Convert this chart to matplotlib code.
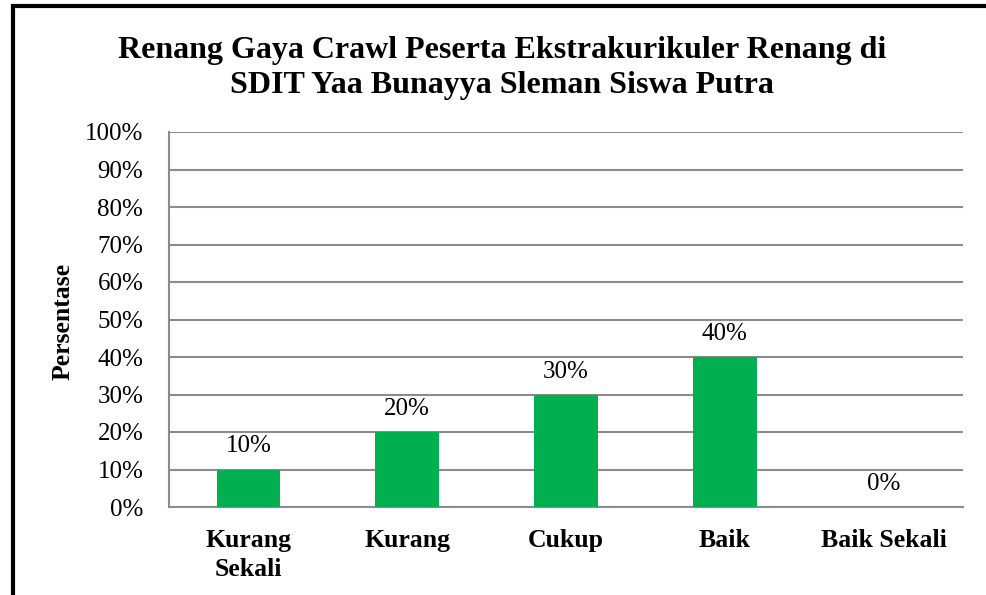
import matplotlib.pyplot as plt
from matplotlib.patches import Rectangle

categories = ["Kurang\nSekali", "Kurang", "Cukup", "Baik", "Baik Sekali"]
values = [10, 20, 30, 40, 0]
yticks = [0, 10, 20, 30, 40, 50, 60, 70, 80, 90, 100]

plt.rcParams['font.family'] = ['Liberation Serif', 'DejaVu Serif']

fig = plt.figure(figsize=(9.87, 5.95), dpi=100)
ax = fig.add_axes([169 / 987, 1 - 507 / 595, 794 / 987, 375 / 595])

x = range(len(categories))
ax.bar(x, values, width=0.4, color='#00b050', zorder=3)
for i, v in enumerate(values):
    ax.text(i, v + 3.2, f"{v}%", ha='center', va='bottom', fontsize=18)

ax.set_xlim(-0.5, len(categories) - 0.5)
ax.set_ylim(0, 100)
ax.set_yticks(yticks)
ax.set_yticklabels([f"{t}%" for t in yticks], fontsize=18)
ax.set_xticks(list(x))
ax.set_xticklabels(categories, fontsize=18.5, fontweight='bold', linespacing=1.3, va='top')
ax.tick_params(axis='both', length=0)
ax.tick_params(axis='y', pad=18.5)
ax.tick_params(axis='x', pad=16)
ax.yaxis.grid(True, color='#8c8c8c', linewidth=1.5, zorder=0)
for s in ['top', 'right']:
    ax.spines[s].set_visible(False)
for s in ['left', 'bottom']:
    ax.spines[s].set_color('#8c8c8c')
    ax.spines[s].set_linewidth(1.5)

ax.set_ylabel("Persentase", fontsize=18.5, fontweight='bold')
ax.yaxis.set_label_coords(75 / 987, 1 - 321 / 595, transform=fig.transFigure)

fig.text(502 / 987, 1 - 68 / 595,
         "Renang Gaya Crawl Peserta Ekstrakurikuler Renang di\nSDIT Yaa Bunayya Sleman Siswa Putra",
         ha='center', va='center', fontsize=23, fontweight='bold', linespacing=1.3)

fig.patches.append(Rectangle((13.5 / 987, -0.1), 1.2, 1.1 - 6 / 595, transform=fig.transFigure,
                             fill=False, edgecolor='black', linewidth=3, zorder=10))

fig.savefig("out.png", dpi=100)
